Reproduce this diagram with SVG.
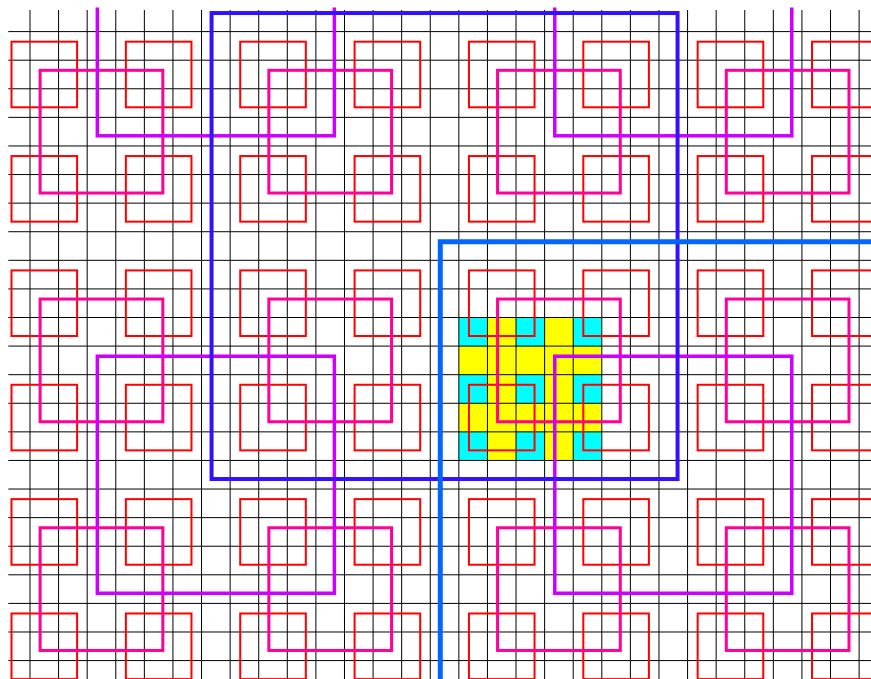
<svg xmlns="http://www.w3.org/2000/svg" xmlns:xlink="http://www.w3.org/1999/xlink" width="871" height="679" viewBox="0 0 871 679">
<style>
.grid{fill:none;stroke:#000;stroke-width:1}
.red{fill:none;stroke:#ff0000;stroke-width:2}
.mag{fill:none;stroke:#ff0099;stroke-width:3}
.pur{fill:none;stroke:#cc00ff;stroke-width:3.5}
.blu{fill:none;stroke:#3311ff;stroke-width:4}
.bbl{fill:none;stroke:#0066ff;stroke-width:5}
.yel{fill:#ffff00}
.cya{fill:#00ffff}
</style>
<defs>
<clipPath id="clip"><rect x="0" y="7.5" width="871" height="680"/></clipPath>
<rect id="rr" width="65.6" height="65.6"/>
<rect id="mm" width="122.7" height="122.7"/>
<rect id="pp" width="237" height="237"/>
</defs>
<rect width="871" height="679" fill="#ffffff"/>
<g clip-path="url(#clip)">
<g id="cells">
<rect class="yel" x="458.85" y="317.5" width="142.95" height="142.95"/>
<rect class="cya" x="458.85" y="317.5" width="28.59" height="28.59"/>
<rect class="cya" x="516.03" y="317.5" width="28.59" height="28.59"/>
<rect class="cya" x="573.21" y="317.5" width="28.59" height="28.59"/>
<rect class="cya" x="458.85" y="374.68" width="28.59" height="28.59"/>
<rect class="cya" x="516.03" y="374.68" width="28.59" height="28.59"/>
<rect class="cya" x="573.21" y="374.68" width="28.59" height="28.59"/>
<rect class="cya" x="458.85" y="431.86" width="28.59" height="28.59"/>
<rect class="cya" x="516.03" y="431.86" width="28.59" height="28.59"/>
<rect class="cya" x="573.21" y="431.86" width="28.59" height="28.59"/>
</g>
<g id="grid" class="grid">
<path d="M30 10V679M58.59 10V679M87.18 10V679M115.77 10V679M144.36 10V679M172.95 10V679M201.54 10V679M230.13 10V679M258.72 10V679M287.31 10V679M315.9 10V679M344.49 10V679M373.08 10V679M401.67 10V679M430.26 10V679M458.85 10V679M487.44 10V679M516.03 10V679M544.62 10V679M573.21 10V679M601.8 10V679M630.39 10V679M658.98 10V679M687.57 10V679M716.16 10V679M744.75 10V679M773.34 10V679M801.93 10V679M830.52 10V679M859.11 10V679"/>
<path d="M8.3 31.6H871M8.3 60.19H871M8.3 88.78H871M8.3 117.37H871M8.3 145.96H871M8.3 174.55H871M8.3 203.14H871M8.3 231.73H871M8.3 260.32H871M8.3 288.91H871M8.3 317.5H871M8.3 346.09H871M8.3 374.68H871M8.3 403.27H871M8.3 431.86H871M8.3 460.45H871M8.3 489.04H871M8.3 517.63H871M8.3 546.22H871M8.3 574.81H871M8.3 603.4H871M8.3 631.99H871M8.3 660.58H871"/>
</g>
<g id="red-squares" class="red">
<use href="#rr" x="11.5" y="41.69"/><use href="#rr" x="125.86" y="41.69"/><use href="#rr" x="240.22" y="41.69"/><use href="#rr" x="354.58" y="41.69"/><use href="#rr" x="468.94" y="41.69"/><use href="#rr" x="583.3" y="41.69"/><use href="#rr" x="697.66" y="41.69"/><use href="#rr" x="812.02" y="41.69"/>
<use href="#rr" x="11.5" y="156.05"/><use href="#rr" x="125.86" y="156.05"/><use href="#rr" x="240.22" y="156.05"/><use href="#rr" x="354.58" y="156.05"/><use href="#rr" x="468.94" y="156.05"/><use href="#rr" x="583.3" y="156.05"/><use href="#rr" x="697.66" y="156.05"/><use href="#rr" x="812.02" y="156.05"/>
<use href="#rr" x="11.5" y="270.41"/><use href="#rr" x="125.86" y="270.41"/><use href="#rr" x="240.22" y="270.41"/><use href="#rr" x="354.58" y="270.41"/><use href="#rr" x="468.94" y="270.41"/><use href="#rr" x="583.3" y="270.41"/><use href="#rr" x="697.66" y="270.41"/><use href="#rr" x="812.02" y="270.41"/>
<use href="#rr" x="11.5" y="384.77"/><use href="#rr" x="125.86" y="384.77"/><use href="#rr" x="240.22" y="384.77"/><use href="#rr" x="354.58" y="384.77"/><use href="#rr" x="468.94" y="384.77"/><use href="#rr" x="583.3" y="384.77"/><use href="#rr" x="697.66" y="384.77"/><use href="#rr" x="812.02" y="384.77"/>
<use href="#rr" x="11.5" y="499.13"/><use href="#rr" x="125.86" y="499.13"/><use href="#rr" x="240.22" y="499.13"/><use href="#rr" x="354.58" y="499.13"/><use href="#rr" x="468.94" y="499.13"/><use href="#rr" x="583.3" y="499.13"/><use href="#rr" x="697.66" y="499.13"/><use href="#rr" x="812.02" y="499.13"/>
<use href="#rr" x="11.5" y="613.49"/><use href="#rr" x="125.86" y="613.49"/><use href="#rr" x="240.22" y="613.49"/><use href="#rr" x="354.58" y="613.49"/><use href="#rr" x="468.94" y="613.49"/><use href="#rr" x="583.3" y="613.49"/><use href="#rr" x="697.66" y="613.49"/><use href="#rr" x="812.02" y="613.49"/>
</g>
<g id="magenta-squares" class="mag">
<use href="#mm" x="40.13" y="70.32"/><use href="#mm" x="268.85" y="70.32"/><use href="#mm" x="497.57" y="70.32"/><use href="#mm" x="726.29" y="70.32"/>
<use href="#mm" x="40.13" y="299.04"/><use href="#mm" x="268.85" y="299.04"/><use href="#mm" x="497.57" y="299.04"/><use href="#mm" x="726.29" y="299.04"/>
<use href="#mm" x="40.13" y="527.76"/><use href="#mm" x="268.85" y="527.76"/><use href="#mm" x="497.57" y="527.76"/><use href="#mm" x="726.29" y="527.76"/>
</g>
<g id="purple-squares" class="pur">
<use href="#pp" x="97.34" y="-101.2"/><use href="#pp" x="554.78" y="-101.2"/>
<use href="#pp" x="97.34" y="356.24"/><use href="#pp" x="554.78" y="356.24"/>
</g>
<g id="blue-square">
<rect class="blu" x="211.56" y="13.03" width="466" height="466"/>
</g>
<g id="bright-blue-square">
<rect class="bbl" x="440.28" y="241.75" width="466" height="466"/>
</g>
</g>
</svg>
